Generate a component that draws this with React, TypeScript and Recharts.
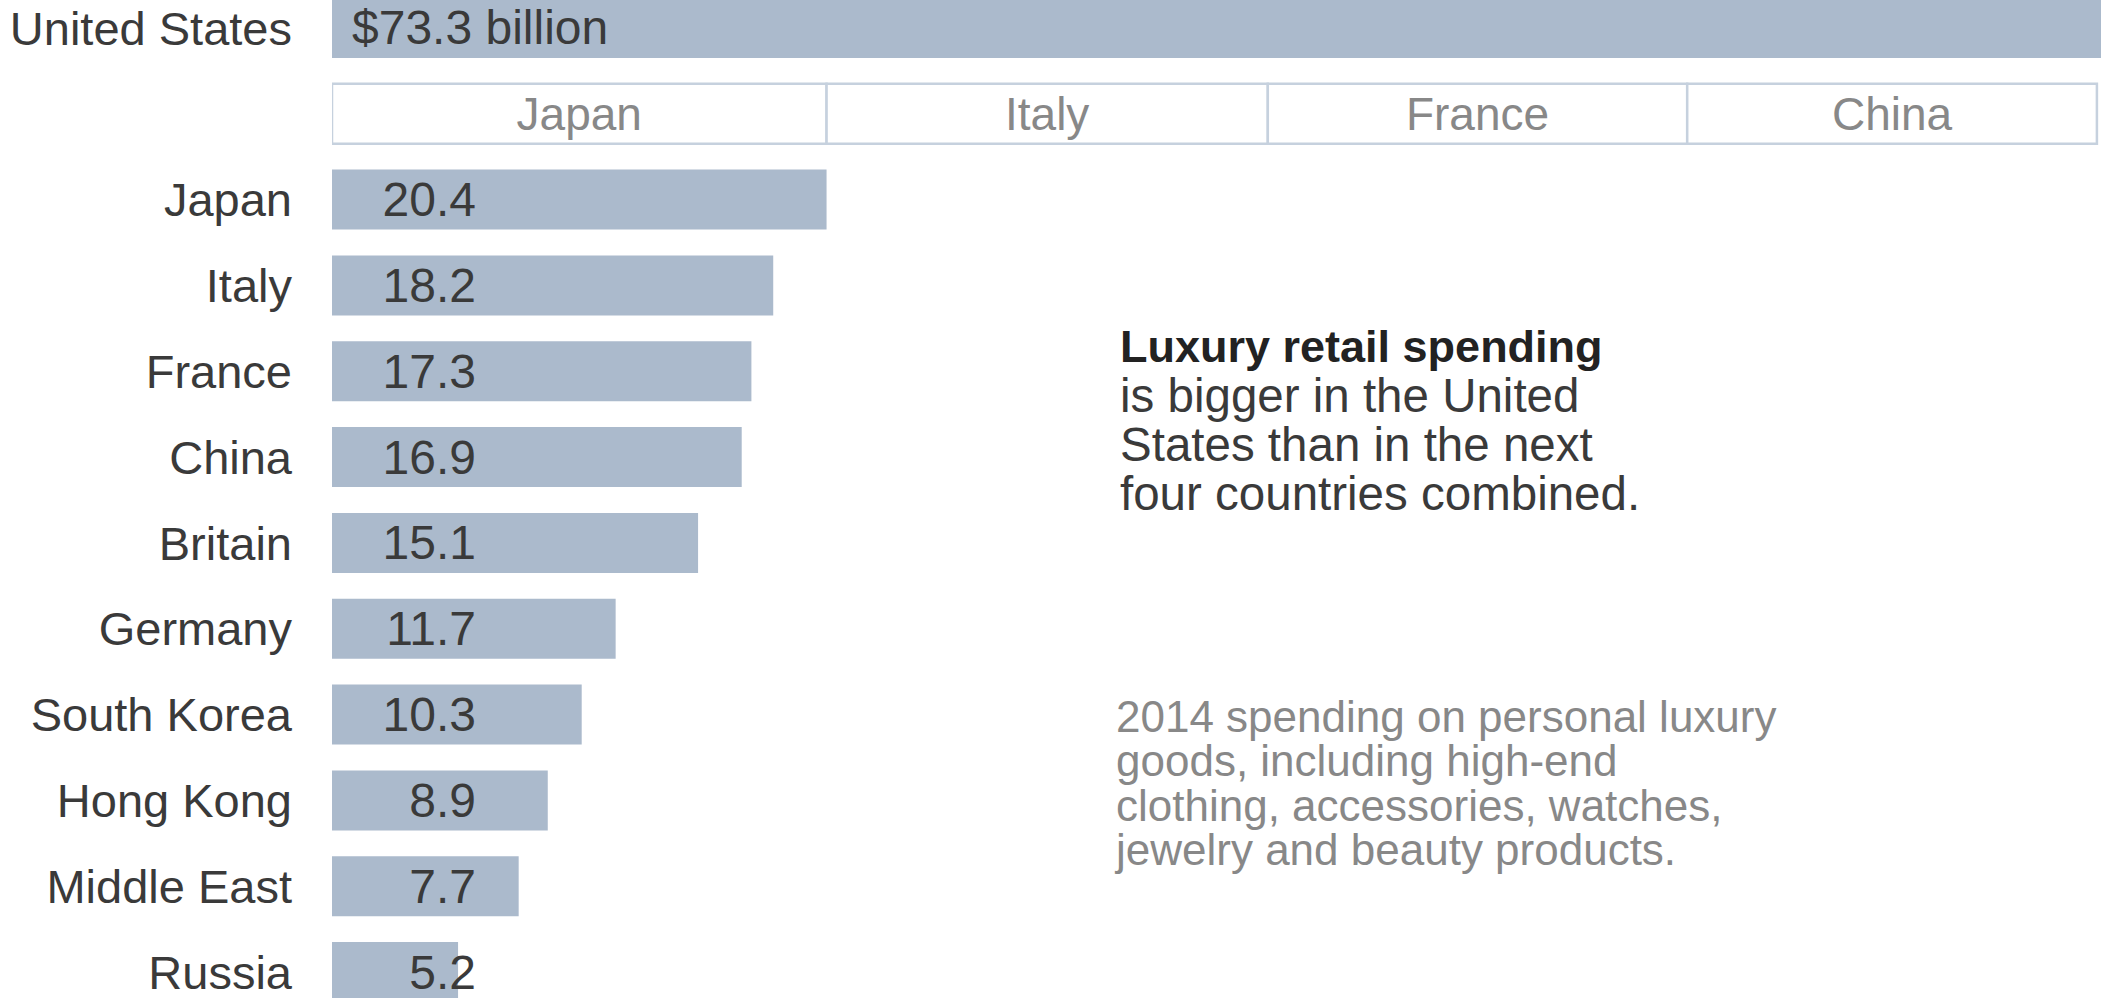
import { BarChart, Bar, XAxis, YAxis, LabelList } from 'recharts';

// 2014 personal luxury goods spending, billions of dollars
const countries = [
  'United States',
  'Japan',
  'Italy',
  'France',
  'China',
  'Britain',
  'Germany',
  'South Korea',
  'Hong Kong',
  'Middle East',
  'Russia',
];
const spending = [73.3, 20.4, 18.2, 17.3, 16.9, 15.1, 11.7, 10.3, 8.9, 7.7, 5.2];

// the four countries stacked under the U.S. bar
const compared = ['Japan', 'Italy', 'France', 'China'];

const noteLines = ['is bigger in the United', 'States than in the next', 'four countries combined.'];
const sourceLines = [
  '2014 spending on personal luxury',
  'goods, including high-end',
  'clothing, accessories, watches,',
  'jewelry and beauty products.',
];

const FONT = '"Liberation Sans", Arial, sans-serif';
const BAR = '#abbacc';

const headerRow: any = { name: ' ', value: 0, label: '' };
compared.forEach((c, i) => {
  headerRow[`h${i}`] = spending[countries.indexOf(c)];
  headerRow[`n${i}`] = c;
});

const rows: any[] = countries.map((name, i) => ({
  name,
  value: spending[i],
  label: i === 0 ? `$${spending[i]} billion` : spending[i].toFixed(1),
  h0: 0,
  h1: 0,
  h2: 0,
  h3: 0,
}));
rows.splice(1, 0, headerRow);

const ValueLabel = (props: any) => {
  const { x, y, width, height, value, index } = props;
  if (!value || !width) return null;
  const isFirst = index === 0;
  return (
    <text
      x={isFirst ? x + 20 : x + 144}
      y={y + height / 2}
      textAnchor={isFirst ? 'start' : 'end'}
      dominantBaseline="central"
      fontSize={48}
      fontFamily={FONT}
      fill="#3a3a3a"
    >
      {value}
    </text>
  );
};

export default function App() {
  return (
    <div
      style={{
        position: 'absolute',
        left: 0,
        top: 0,
        width: 2101,
        height: 998,
        overflow: 'hidden',
        background: '#fff',
        fontFamily: FONT,
      }}
    >
      <div style={{ position: 'absolute', left: 0, top: -15.4 }}>
        <BarChart
          layout="vertical"
          width={2126}
          height={1030}
          data={rows}
          margin={{ top: 0, right: 0, bottom: 0, left: 0 }}
          barCategoryGap="15%"
        >
          <XAxis type="number" domain={[0, 74]} hide allowDataOverflow />
          <YAxis
            type="category"
            dataKey="name"
            width={332}
            interval={0}
            axisLine={false}
            tickLine={false}
            tickSize={10}
            tickMargin={30}
            tick={{ fontSize: 47, fill: '#3a3a3a', fontFamily: FONT }}
          />
          <Bar dataKey="value" stackId="a" fill={BAR} isAnimationActive={false}>
            <LabelList dataKey="label" content={<ValueLabel />} />
          </Bar>
          {compared.map((c, i) => (
            <Bar
              key={c}
              dataKey={`h${i}`}
              stackId="a"
              fill="#fff"
              stroke="#c6d1de"
              strokeWidth={2.5}
              isAnimationActive={false}
            >
              <LabelList
                dataKey={`n${i}`}
                position="center"
                fill="#888"
                fontSize={46}
                fontFamily={FONT}
              />
            </Bar>
          ))}
        </BarChart>
      </div>

      <div
        style={{
          position: 'absolute',
          left: 1120,
          top: 322,
          fontSize: 47.5,
          lineHeight: '49px',
          color: '#3a3a3a',
          whiteSpace: 'nowrap',
        }}
      >
        <div style={{ fontWeight: 'bold', color: '#222', fontSize: 45 }}>Luxury retail spending</div>
        {noteLines.map((l) => (
          <div key={l}>{l}</div>
        ))}
      </div>

      <div
        style={{
          position: 'absolute',
          left: 1116,
          top: 695,
          fontSize: 44,
          lineHeight: '44.3px',
          color: '#888',
          whiteSpace: 'nowrap',
        }}
      >
        {sourceLines.map((l) => (
          <div key={l}>{l}</div>
        ))}
      </div>
    </div>
  );
}
